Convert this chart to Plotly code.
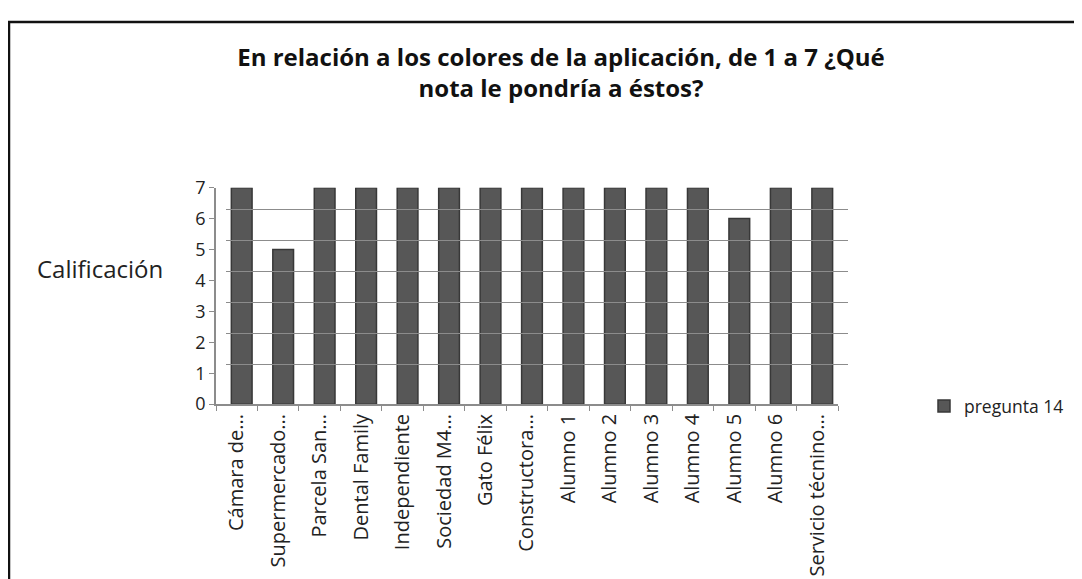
import plotly.graph_objects as go

categories = ["Cámara de...", "Supermercado...", "Parcela San...", "Dental Family",
              "Independiente", "Sociedad M4...", "Gato Félix", "Constructora...",
              "Alumno 1", "Alumno 2", "Alumno 3", "Alumno 4", "Alumno 5",
              "Alumno 6", "Servicio técnino..."]
values = [7, 5, 7, 7, 7, 7, 7, 7, 7, 7, 7, 7, 6, 7, 7]
series_name = "pregunta 14"
y_ticks = [0, 1, 2, 3, 4, 5, 6, 7]
title_text = "En relación a los colores de la aplicación, de 1 a 7 ¿Qué<br>nota le pondría a éstos?"
y_title = "Calificación"

# the page has an 8px body margin, so the figure is 8px smaller than the window
W, H = 1074, 571
def px(x):
    return x / W
def py(y):
    return 1 - y / H

FONT = "Open Sans"

fig = go.Figure()

# back wall (3D look) – gridlines only
fig.add_trace(go.Bar(x=categories, y=[None] * len(categories), xaxis="x2", yaxis="y2",
                     showlegend=False, hoverinfo="skip"))

fig.add_trace(go.Bar(
    x=categories, y=values, name=series_name,
    width=0.5, offset=-0.13,
    marker=dict(color="#575757", line=dict(color="#383838", width=1.5)),
))

front_x = [px(208), px(830)]
front_y = [py(400), py(174)]
dx, dy = 10, 9
back_x = [px(208 + dx), px(830 + dx)]
back_y = [py(400 - dy), py(174 - dy)]

fig.update_layout(
    width=W, height=H,
    margin=dict(l=0, r=0, t=0, b=0),
    paper_bgcolor="white", plot_bgcolor="rgba(0,0,0,0)",
    font=dict(family=FONT, color="#222222"),
    title=dict(text=title_text, x=px(553), xanchor="center", y=py(58), yanchor="middle",
               font=dict(family=FONT, size=24, color="#111111", weight="bold")),
    xaxis=dict(domain=front_x, type="category", tickangle=-90,
               tickfont=dict(size=20, color="#222222"),
               showline=True, linecolor="#8c8c8c", linewidth=1.5,
               ticks="outside", ticklen=5, tickcolor="#8c8c8c", tickson="boundaries",
               showgrid=False),
    yaxis=dict(domain=front_y, range=[0, 7], tickvals=y_ticks,
               tickfont=dict(size=18, color="#222222"),
               showline=True, linecolor="#8c8c8c", linewidth=1.5,
               ticks="outside", ticklen=5, tickcolor="#8c8c8c",
               showgrid=False, zeroline=False),
    xaxis2=dict(domain=back_x, type="category", anchor="y2",
                showticklabels=False, showgrid=False, showline=False, ticks=""),
    yaxis2=dict(domain=back_y, range=[0, 7], tickvals=y_ticks, anchor="x2",
                showticklabels=False, showgrid=True, gridcolor="#8c8c8c", gridwidth=1.2,
                zeroline=False, showline=False, ticks=""),
    legend=dict(x=px(916), y=py(402), xanchor="left", yanchor="middle",
                font=dict(size=17.5, color="#222222"), bgcolor="rgba(0,0,0,0)"),
    annotations=[dict(text=y_title, x=px(27), y=py(258), xref="paper", yref="paper",
                      xanchor="left", yanchor="middle", showarrow=False,
                      font=dict(size=24, color="#222222", family=FONT))],
    shapes=[dict(type="rect", xref="paper", yref="paper", x0=px(1), y0=-0.2, x1=1.2, y1=py(1),
                 line=dict(color="#111111", width=2.5), fillcolor="rgba(0,0,0,0)", layer="below")],
)

fig.write_html("out.html")
